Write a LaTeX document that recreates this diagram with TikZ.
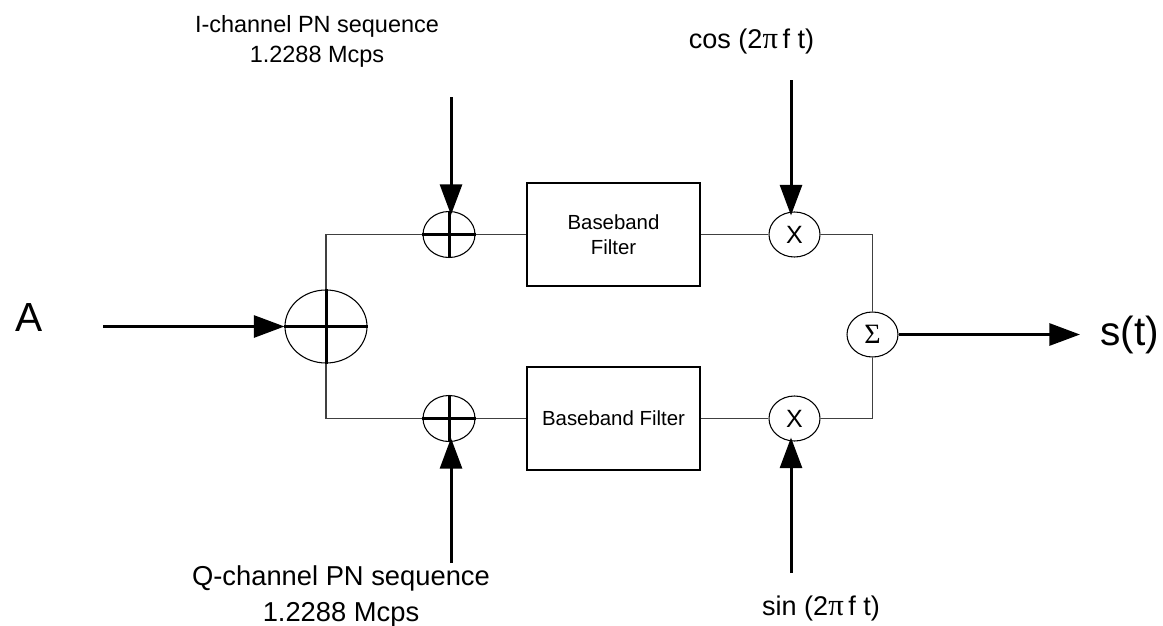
\documentclass[tikz,border=0pt]{standalone}
\usepackage{fontspec}
\setmainfont{Liberation Sans}
\newfontfamily\symfont{Liberation Serif}
\usetikzlibrary{arrows.meta,shapes.geometric}

\begin{document}
\begin{tikzpicture}[x=0.75pt,y=-0.75pt,
  wire/.style={line width=0.8pt, draw=black!75},
  sig/.style={line width=2.25pt, draw=black, -{Triangle[length=23pt,width=16.5pt]}},
  cross/.style={line width=2.25pt, draw=black},
  junction/.style={ellipse, draw=black, line width=0.8pt, inner sep=0pt},
  smalljunction/.style={junction, minimum width=39pt, minimum height=34.5pt},
  mixer/.style={junction, minimum width=38.25pt, minimum height=33.75pt,
                font=\fontsize{18.75pt}{22pt}\selectfont},
  filterbox/.style={rectangle, draw=black, line width=0.8pt, inner sep=0pt,
                    minimum width=129.75pt, minimum height=77.25pt, align=center,
                    font=\fontsize{15.3pt}{18.5pt}\selectfont},
  biglabel/.style={inner sep=0pt, font=\fontsize{30.5pt}{36pt}\selectfont},
  pnlabel/.style={inner sep=0pt, align=center},
  carrier/.style={inner sep=0pt, font=\fontsize{20.3pt}{24pt}\selectfont}
]
\useasboundingbox (0,0) rectangle (1163,625);

% --- blocks ---
\node[junction, minimum width=61.5pt, minimum height=54.75pt] (sum0) at (326,326.5) {};
\node[smalljunction] (addI) at (449,234.5) {};
\node[smalljunction] (addQ) at (449,418.5) {};
\node[filterbox] (filtI) at (613.5,234.5) {Baseband\\Filter};
\node[filterbox] (filtQ) at (613.5,418.5) {Baseband Filter};
\node[mixer] (mulI) at (794.5,234.5) {X};
\node[mixer] (mulQ) at (794.5,418.5) {X};
\node[junction, minimum width=38.25pt, minimum height=33.75pt,
      font=\fontsize{21pt}{24pt}\symfont] (sigma) at (872.5,334.5) {Σ};

% --- crosses inside the modulo-2 adders ---
\foreach \n in {sum0,addI,addQ}
  \draw[cross] (\n.west) -- (\n.east) (\n.north) -- (\n.south);

% --- labels ---
\node[biglabel, anchor=base west] (aLbl) at (15,331) {A};
\node[biglabel, anchor=base west] (sLbl) at (1100,345) {s(t)};
\node[pnlabel, anchor=south, font=\fontsize{17.6pt}{22.5pt}\selectfont] (iLbl) at (317,68)
  {I-channel PN sequence\\1.2288 Mcps};
\node[pnlabel, anchor=south, font=\fontsize{20.5pt}{27pt}\selectfont] (qLbl) at (341,627)
  {Q-channel PN sequence\\1.2288 Mcps};
\node[carrier, anchor=base] (cosLbl) at (751.5,48) {cos (2{\symfont\fontsize{23pt}{24pt}\selectfont π}\,f t)};
\node[carrier, anchor=base] (sinLbl) at (821,615) {sin (2{\symfont\fontsize{23pt}{24pt}\selectfont π}\,f t)};

% --- free ends of the input arrows ---
\coordinate (aIn) at (103,326.5);
\coordinate (iIn) at (451,97);
\coordinate (qIn) at (451,563);
\coordinate (cosIn) at (791,80);
\coordinate (sinIn) at (791,573);
\coordinate (out) at (1080,334.5);

% --- wiring ---
\draw[wire] (sum0.north) |- (addI.west);
\draw[wire] (sum0.south) |- (addQ.west);
\draw[wire] (addI.east) -- (filtI.west);
\draw[wire] (addQ.east) -- (filtQ.west);
\draw[wire] (filtI.east) -- (mulI.west);
\draw[wire] (filtQ.east) -- (mulQ.west);
\draw[wire] (mulI.east) -| (sigma.north);
\draw[wire] (mulQ.east) -| (sigma.south);

% --- signal arrows ---
\draw[sig] (aIn) -- (sum0.west);
\draw[sig, shorten >=-3pt] (iIn) -- (iIn |- addI.north);
\draw[sig, shorten >=-3pt] (qIn) -- (qIn |- addQ.south);
\draw[sig, shorten >=-3pt] (cosIn) -- (cosIn |- mulI.north);
\draw[sig, shorten >=-3pt] (sinIn) -- (sinIn |- mulQ.south);
\draw[sig] (sigma.east) -- (out);
\end{tikzpicture}
\end{document}
